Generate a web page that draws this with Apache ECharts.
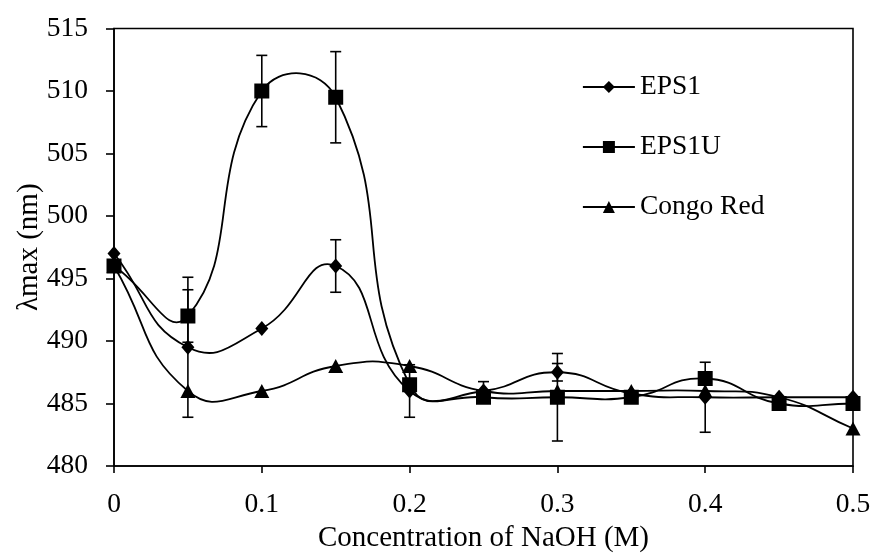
<!DOCTYPE html>
<html>
<head>
<meta charset="utf-8">
<script src="https://cdn.jsdelivr.net/npm/echarts@6/dist/echarts.min.js"></script>
<style>
html,body{margin:0;padding:0;background:#fff;}
#chart{width:873px;height:553px;}
</style>
</head>
<body>
<div id="chart"></div>
<script>
var xValues = [0, 0.05, 0.1, 0.15, 0.2, 0.25, 0.3, 0.35, 0.4, 0.45, 0.5];
var eps1 = [497, 489.5, 491, 496, 486, 486, 487.5, 485.8, 485.5, 485.5, 485.5];
var eps1u = [496, 492, 510, 509.5, 486.5, 485.5, 485.5, 485.5, 487, 485, 485];
var congo = [496, 486, 486, 488, 488, 486, 486, 486, 486, 485.5, 483];
var eps1Err = [0, 5.6, 0, 2.1, 2.1, 0.75, 0.7, 0, 2.8, 0, 0];
var eps1uErr = [0, 2.1, 2.85, 3.65, 0, 0, 3.5, 0, 0, 0.5, 0];
var congoErr = [0, 0, 0, 0, 0, 0, 0, 0, 0, 0, 0];
var yTicks = [480, 485, 490, 495, 500, 505, 510, 515];
var xTicks = [0, 0.1, 0.2, 0.3, 0.4, 0.5];

var FONT = 'Liberation Serif';
var SMOOTH = 0.5;

function pairs(ys) { return xValues.map(function (x, i) { return [x, ys[i]]; }); }
function errData(ys, es) {
  var out = [];
  xValues.forEach(function (x, i) { if (es[i] > 0) out.push([x, ys[i] - es[i], ys[i] + es[i]]); });
  return out;
}
function errSeries(ys, es) {
  return {
    type: 'custom',
    data: errData(ys, es),
    z: 3,
    silent: true,
    renderItem: function (params, api) {
      var x = api.value(0);
      var lo = api.coord([x, api.value(1)]);
      var hi = api.coord([x, api.value(2)]);
      var w = 5.5;
      var st = { stroke: '#000', lineWidth: 1.6 };
      return {
        type: 'group',
        children: [
          { type: 'line', shape: { x1: lo[0], y1: lo[1], x2: hi[0], y2: hi[1] }, style: st },
          { type: 'line', shape: { x1: lo[0] - w, y1: lo[1], x2: lo[0] + w, y2: lo[1] }, style: st },
          { type: 'line', shape: { x1: hi[0] - w, y1: hi[1], x2: hi[0] + w, y2: hi[1] }, style: st }
        ]
      };
    },
    encode: { x: 0, y: [1, 2] }
  };
}
// smooth curve (spreadsheet-style bezier through the data points)
function curveSeries(ys) {
  var n = ys.length;
  return {
    type: 'custom',
    data: pairs(ys),
    z: 2,
    silent: true,
    renderItem: function (params, api) {
      var i = params.dataIndex;
      if (i >= n - 1) return null;
      function P(k) { k = Math.max(0, Math.min(n - 1, k)); return api.coord([xValues[k], ys[k]]); }
      function dist(a, b) { return Math.sqrt((a[0] - b[0]) * (a[0] - b[0]) + (a[1] - b[1]) * (a[1] - b[1])); }
      function ctrl(prev, cur, next, forward) {
        var vx = next[0] - prev[0], vy = next[1] - prev[1];
        var d0 = dist(prev, cur), d1 = dist(cur, next);
        var r = (d0 + d1) > 0 ? d1 / (d0 + d1) : 0.5;
        if (forward) return [cur[0] + vx * SMOOTH * r, cur[1] + vy * SMOOTH * r];
        return [cur[0] - vx * SMOOTH * (1 - r), cur[1] - vy * SMOOTH * (1 - r)];
      }
      var p0 = P(i - 1), p1 = P(i), p2 = P(i + 1), p3 = P(i + 2);
      var c1 = ctrl(p0, p1, p2, true);
      var c2 = ctrl(p1, p2, p3, false);
      return {
        type: 'bezierCurve',
        shape: { x1: p1[0], y1: p1[1], x2: p2[0], y2: p2[1], cpx1: c1[0], cpy1: c1[1], cpx2: c2[0], cpy2: c2[1] },
        style: { stroke: '#000', lineWidth: 1.8, fill: null }
      };
    },
    encode: { x: 0, y: 1 }
  };
}
function markerSeries(name, ys, symbol, size) {
  return {
    name: name,
    type: 'line',
    data: pairs(ys),
    symbol: symbol,
    symbolSize: size,
    showAllSymbol: true,
    z: 4,
    lineStyle: { color: '#000', width: 1.8, opacity: 0 },
    itemStyle: { color: '#000', borderWidth: 0 },
    emphasis: { disabled: true }
  };
}

var chart = echarts.init(document.getElementById('chart'), null, { renderer: 'canvas' });
chart.setOption({
  animation: false,
  backgroundColor: '#fff',
  textStyle: { fontFamily: FONT, color: '#000' },
  grid: { left: 114, right: 20, top: 28.5, bottom: 87, outerBoundsMode: 'none', containLabel: false,
    show: true, borderColor: '#000', borderWidth: 1.6, backgroundColor: 'transparent' },
  legend: {
    orient: 'vertical',
    left: 577,
    top: 68,
    itemWidth: 52,
    itemHeight: 15,
    itemGap: 32,
    data: ['EPS1', 'EPS1U', 'Congo Red'],
    lineStyle: { color: '#000', width: 1.8, opacity: 1 },
    textStyle: { fontFamily: FONT, fontSize: 27.5, color: '#000' }
  },
  xAxis: {
    type: 'value',
    min: 0,
    max: 0.5,
    interval: 0.1,
    name: 'Concentration of NaOH (M)',
    nameLocation: 'middle',
    nameGap: 58,
    nameMoveOverlap: false,
    nameTextStyle: { fontFamily: FONT, fontSize: 29, color: '#000' },
    axisLine: { show: true, lineStyle: { color: '#000', width: 1.6 } },
    axisTick: { show: true, inside: false, length: 7, lineStyle: { color: '#000', width: 1.6 } },
    axisLabel: { fontFamily: FONT, fontSize: 27.5, color: '#000', margin: 25,
      formatter: function (v) { return String(+v.toFixed(1)); } },
    splitLine: { show: false }
  },
  yAxis: {
    type: 'value',
    min: 480,
    max: 515,
    interval: 5,
    name: 'λmax (nm)',
    nameLocation: 'middle',
    nameGap: 70,
    nameMoveOverlap: false,
    nameRotate: 90,
    nameTextStyle: { fontFamily: FONT, fontSize: 29, color: '#000' },
    axisLine: { show: true, lineStyle: { color: '#000', width: 1.6 } },
    axisTick: { show: true, inside: false, length: 8, lineStyle: { color: '#000', width: 1.6 } },
    axisLabel: { fontFamily: FONT, fontSize: 27.5, color: '#000', margin: 26 },
    splitLine: { show: false }
  },
  series: [
    curveSeries(eps1),
    curveSeries(eps1u),
    curveSeries(congo),
    errSeries(eps1, eps1Err),
    errSeries(eps1u, eps1uErr),
    errSeries(congo, congoErr),
    markerSeries('EPS1', eps1, 'diamond', [13, 15]),
    markerSeries('EPS1U', eps1u, 'rect', 15),
    markerSeries('Congo Red', congo, 'triangle', [15, 14])
  ]
});
</script>
</body>
</html>
